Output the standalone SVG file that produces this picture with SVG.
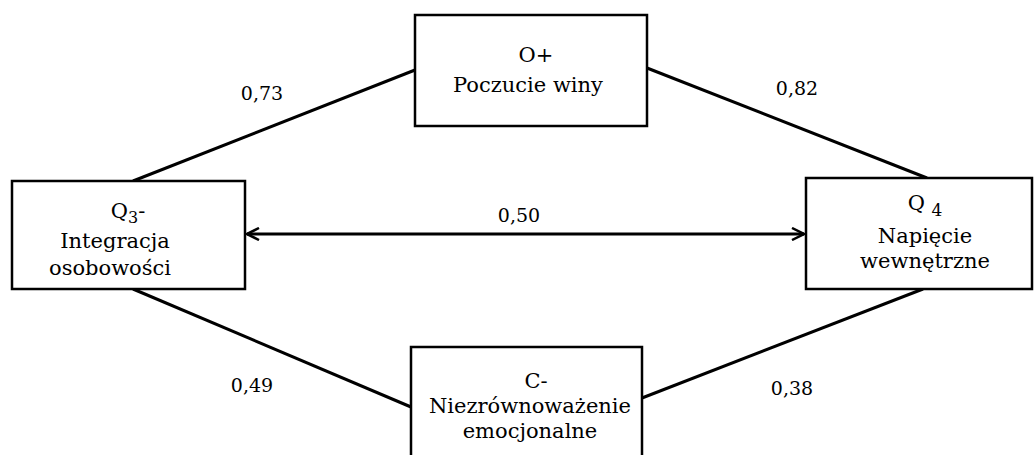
<svg xmlns="http://www.w3.org/2000/svg" width="1035" height="455" viewBox="0 0 1035 455">
<style>
.box{fill:#fff;stroke:#000;stroke-width:2.5}
.t{font-family:'DejaVu Serif',serif;font-size:21px;fill:#000;text-anchor:middle}
.lbl{font-family:'DejaVu Serif',serif;font-size:19px;fill:#000;text-anchor:middle}
.ln{stroke:#000;stroke-width:3;fill:none}
</style>
<defs>
<marker id="arr" viewBox="0 0 14 14" refX="13" refY="7" markerWidth="14" markerHeight="14" markerUnits="userSpaceOnUse" orient="auto-start-reverse">
<path d="M1,1 L13,7 L1,13" fill="none" stroke="#000" stroke-width="2.5"/>
</marker>
</defs>
<g id="connectors">
<line class="ln" x1="133" y1="181" x2="415" y2="70"/>
<line class="ln" x1="647" y1="68" x2="927" y2="178"/>
<line class="ln" x1="133" y1="289" x2="411" y2="407"/>
<line class="ln" x1="642" y1="398" x2="923" y2="289"/>
<line class="ln" x1="247" y1="234" x2="804" y2="234" marker-start="url(#arr)" marker-end="url(#arr)"/>
<text class="lbl" x="262" y="100">0,73</text>
<text class="lbl" x="797" y="95">0,82</text>
<text class="lbl" x="519" y="222">0,50</text>
<text class="lbl" x="252" y="392">0,49</text>
<text class="lbl" x="792" y="395">0,38</text>
</g>
<g id="node-o">
<rect class="box" x="415" y="15" width="232" height="111"/>
<text class="t" x="536" y="62">O+</text>
<text class="t" x="528" y="92">Poczucie winy</text>
</g>
<g id="node-q3">
<rect class="box" x="12" y="181" width="233" height="108"/>
<text class="t" x="128" y="218">Q<tspan font-size="16" dy="5">3</tspan><tspan dy="-5">-</tspan></text>
<text class="t" x="115" y="248">Integracja</text>
<text class="t" x="110" y="275">osobowości</text>
</g>
<g id="node-q4">
<rect class="box" x="806" y="178" width="226" height="111"/>
<text class="t" x="925" y="210">Q <tspan font-size="17" dy="6">4</tspan></text>
<text class="t" x="925" y="243">Napięcie</text>
<text class="t" x="925" y="268">wewnętrzne</text>
</g>
<g id="node-c">
<rect class="box" x="411" y="347" width="231" height="115"/>
<text class="t" x="536" y="388">C-</text>
<text class="t" x="530" y="413">Niezrównoważenie</text>
<text class="t" x="530" y="438">emocjonalne</text>
</g>
</svg>
